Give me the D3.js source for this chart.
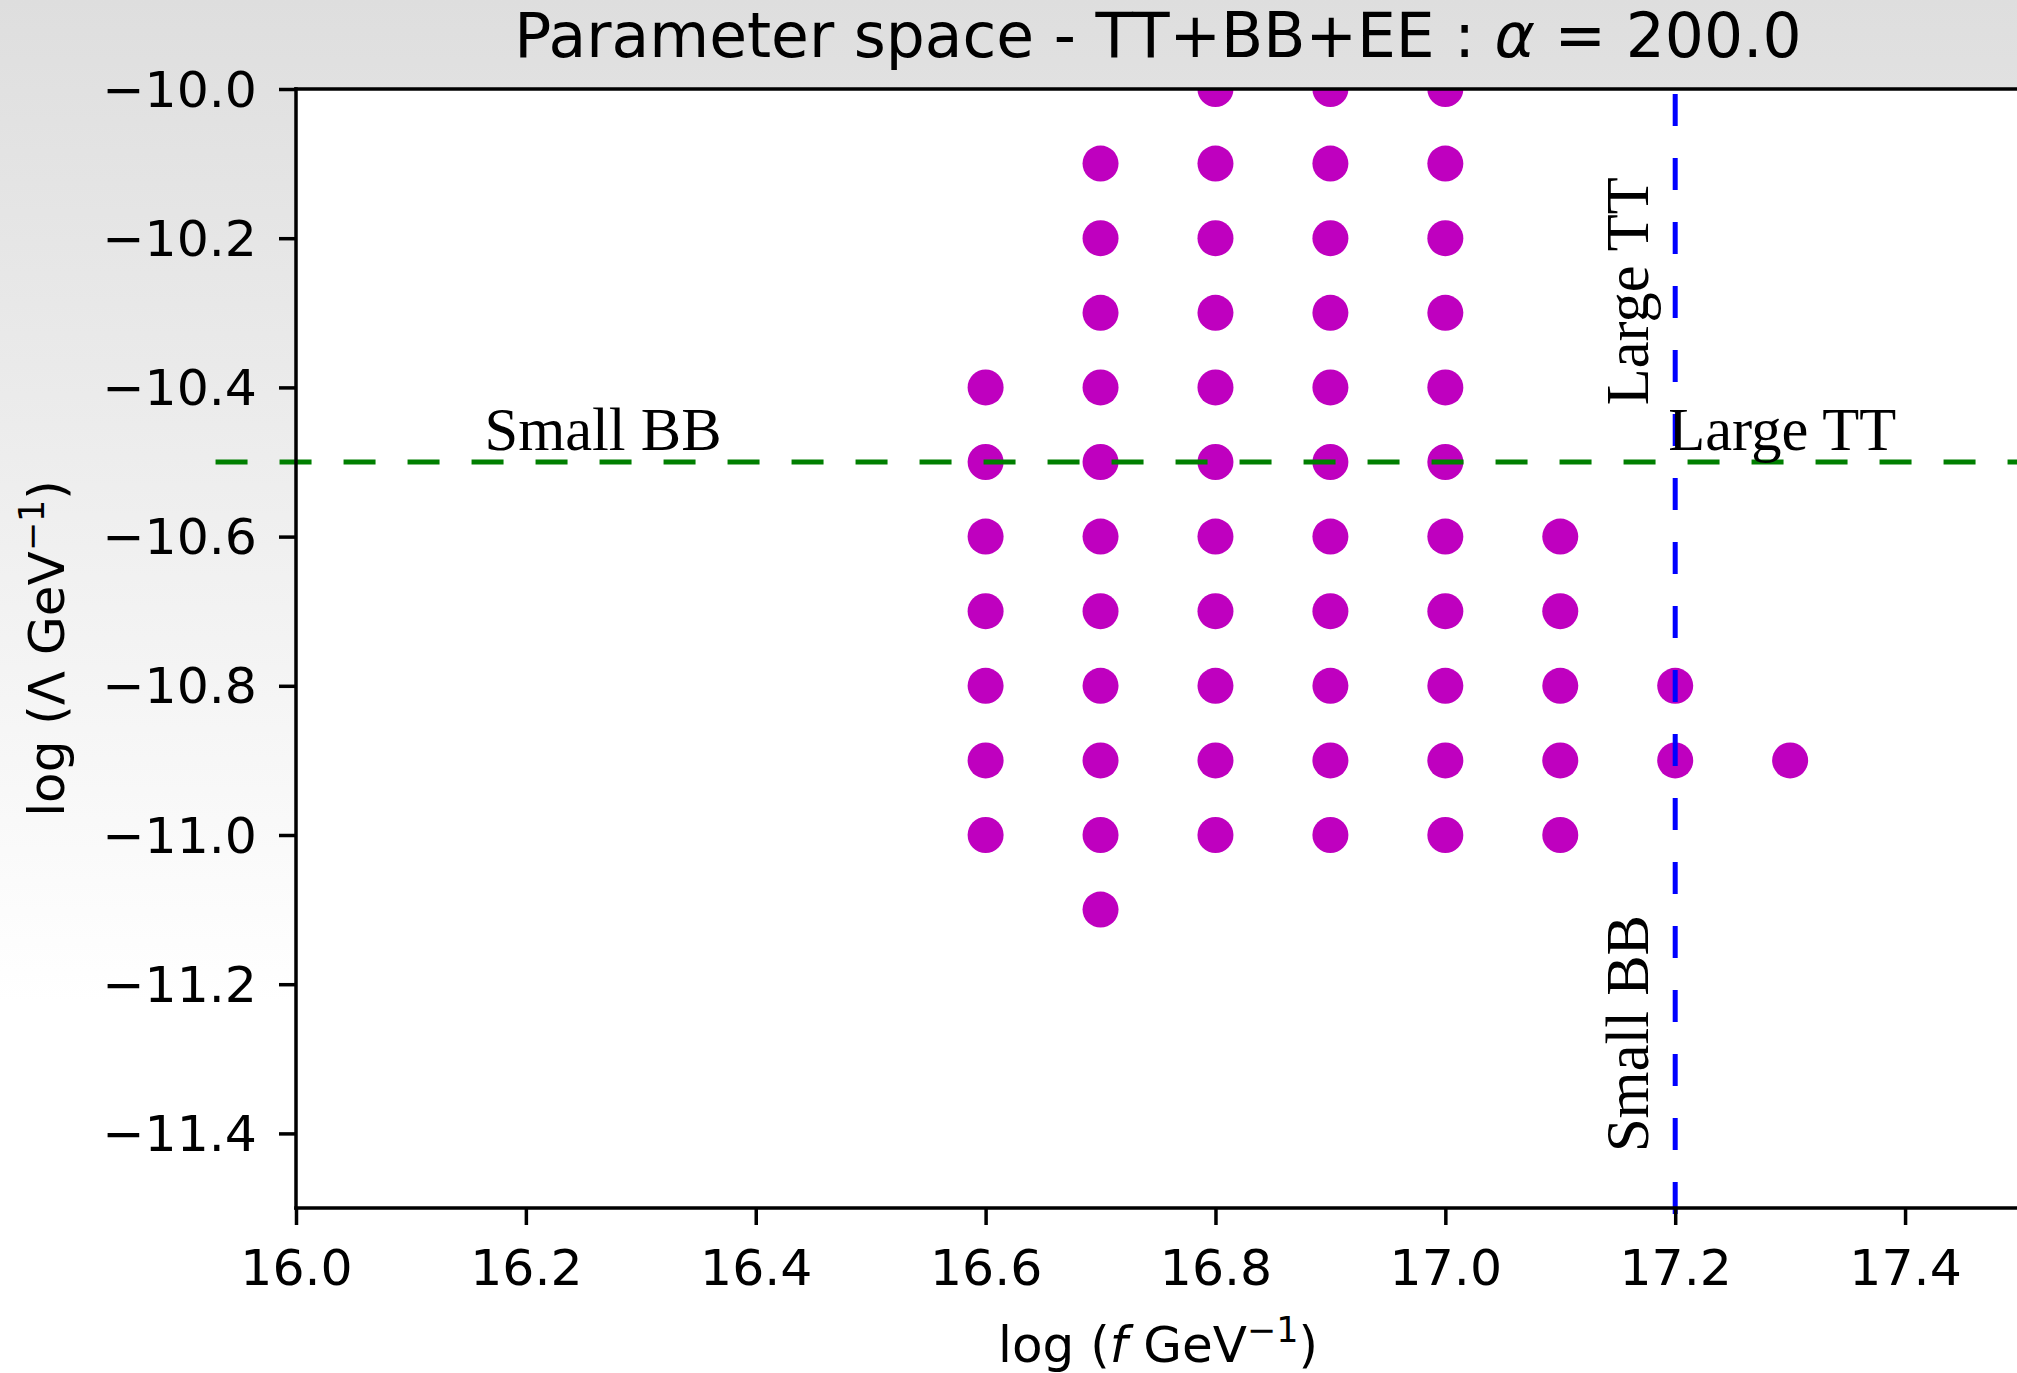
<!DOCTYPE html>
<html>
<head>
<meta charset="utf-8">
<script src="https://cdn.jsdelivr.net/npm/d3@7"></script>
<style>
  html, body { margin: 0; padding: 0; background: #fff; }
  svg { display: block; }
</style>
</head>
<body>
<svg id="chart" width="2017" height="1373"></svg>
<script>
// Grid of allowed (log f, log Lambda) points, one column per log f value
const fValues = [16.6, 16.7, 16.8, 16.9, 17.0, 17.1, 17.2, 17.3];
const lambdaColumns = [
  [-10.4, -10.5, -10.6, -10.7, -10.8, -10.9, -11.0],
  [-10.1, -10.2, -10.3, -10.4, -10.5, -10.6, -10.7, -10.8, -10.9, -11.0, -11.1],
  [-10.0, -10.1, -10.2, -10.3, -10.4, -10.5, -10.6, -10.7, -10.8, -10.9, -11.0],
  [-10.0, -10.1, -10.2, -10.3, -10.4, -10.5, -10.6, -10.7, -10.8, -10.9, -11.0],
  [-10.0, -10.1, -10.2, -10.3, -10.4, -10.5, -10.6, -10.7, -10.8, -10.9, -11.0],
  [-10.6, -10.7, -10.8, -10.9, -11.0],
  [-10.8, -10.9],
  [-10.9]
];

const xTicks = [16.0, 16.2, 16.4, 16.6, 16.8, 17.0, 17.2, 17.4];
const yTicks = [-10.0, -10.2, -10.4, -10.6, -10.8, -11.0, -11.2, -11.4];
const xDomain = [16.0, 17.5];
const yDomain = [-11.5, -10.0];

// Threshold lines
const bbThresholdY = -10.5;          // horizontal, green
const bbLineX = [15.93, 17.5];
const ttThresholdX = 17.2;           // vertical, blue
const ttLineY = [-11.508, -10.0];

// Region annotations
const annotations = [
  { text: "Small BB", x: 16.164, y: -10.484, rotate: 0 },
  { text: "Large TT", x: 17.194, y: -10.484, rotate: 0 },
  { text: "Large TT", x: 17.176, y: -10.424, rotate: -90 },
  { text: "Small BB", x: 17.176, y: -11.425, rotate: -90 }
];

const titleText = "Parameter space - TT+BB+EE : ";
const alphaValue = "200.0";

const points = fValues.flatMap((f, i) => lambdaColumns[i].map(l => ({ f, l })));

const W = 2017, H = 1373;
const plot = { left: 296, right: 2020, top: 89, bottom: 1208 };

const svg = d3.select("#chart");

// Figure background: soft grey fading to white
const defs = svg.append("defs");
const grad = defs.append("linearGradient")
  .attr("id", "figbg").attr("x1", 0).attr("y1", 0).attr("x2", 0).attr("y2", 1);
grad.append("stop").attr("offset", "0%").attr("stop-color", "#dedede");
grad.append("stop").attr("offset", "73%").attr("stop-color", "#ffffff");
grad.append("stop").attr("offset", "100%").attr("stop-color", "#ffffff");
svg.append("rect").attr("width", W).attr("height", H).attr("fill", "url(#figbg)");

defs.append("clipPath").attr("id", "plotclip")
  .append("rect")
  .attr("x", plot.left).attr("y", plot.top)
  .attr("width", plot.right - plot.left).attr("height", plot.bottom - plot.top);

const x = d3.scaleLinear().domain(xDomain).range([plot.left, plot.right]);
const y = d3.scaleLinear().domain(yDomain).range([plot.bottom, plot.top]);

// Axes background
svg.append("rect")
  .attr("x", plot.left).attr("y", plot.top)
  .attr("width", plot.right - plot.left).attr("height", plot.bottom - plot.top)
  .attr("fill", "#ffffff");

// Scatter points
svg.append("g").attr("clip-path", "url(#plotclip)")
  .selectAll("circle").data(points).join("circle")
  .attr("cx", d => x(d.f)).attr("cy", d => y(d.l))
  .attr("r", 18).attr("fill", "#bf00bf");

// Threshold lines (drawn above the points)
svg.append("line")
  .attr("x1", x(bbLineX[0])).attr("x2", x(bbLineX[1]))
  .attr("y1", y(bbThresholdY)).attr("y2", y(bbThresholdY))
  .attr("stroke", "#007f00").attr("stroke-width", 5)
  .attr("stroke-dasharray", "32 32");

svg.append("line")
  .attr("x1", x(ttThresholdX)).attr("x2", x(ttThresholdX))
  .attr("y1", y(ttLineY[0])).attr("y2", y(ttLineY[1]))
  .attr("stroke", "#0000ff").attr("stroke-width", 5)
  .attr("stroke-dasharray", "32 32");

// Annotations
svg.append("g").selectAll("text").data(annotations).join("text")
  .attr("transform", d => `translate(${x(d.x)},${y(d.y)}) rotate(${d.rotate})`)
  .attr("font-family", "'Liberation Serif', 'DejaVu Serif', serif")
  .attr("font-size", 60.5)
  .attr("fill", "#000")
  .text(d => d.text);

// Axes
const fmt = d3.format(".1f");
const xAxis = svg.append("g")
  .attr("transform", `translate(0,${plot.bottom})`)
  .call(d3.axisBottom(x).tickValues(xTicks).tickFormat(fmt).tickSize(17).tickPadding(6));
xAxis.selectAll("text").attr("dy", null).attr("y", 77);

const yAxis = svg.append("g")
  .attr("transform", `translate(${plot.left},0)`)
  .call(d3.axisLeft(y).tickValues(yTicks).tickFormat(fmt).tickSize(17).tickPadding(22));
yAxis.selectAll("text").attr("dy", "0.34em");

[xAxis, yAxis].forEach(g => {
  g.attr("font-family", "'DejaVu Sans', sans-serif").attr("font-size", 50.5);
  g.selectAll("text").attr("fill", "#000");
  g.selectAll(".tick line").attr("stroke", "#000").attr("stroke-width", 3.5);
  g.select(".domain").remove();
});

// Spines
const spine = svg.append("g").attr("stroke", "#000").attr("stroke-width", 3.5)
  .attr("stroke-linecap", "square");
spine.append("line").attr("x1", plot.left).attr("x2", plot.left).attr("y1", plot.top).attr("y2", plot.bottom);
spine.append("line").attr("x1", plot.left).attr("x2", plot.right).attr("y1", plot.top).attr("y2", plot.top);
spine.append("line").attr("x1", plot.left).attr("x2", plot.right).attr("y1", plot.bottom).attr("y2", plot.bottom);
spine.append("line").attr("x1", plot.right).attr("x2", plot.right).attr("y1", plot.top).attr("y2", plot.bottom);

// Title
const title = svg.append("text")
  .attr("x", (plot.left + plot.right) / 2).attr("y", 57)
  .attr("text-anchor", "middle")
  .attr("font-family", "'DejaVu Sans', sans-serif").attr("font-size", 61.5).attr("fill", "#000");
title.append("tspan").text(titleText);
title.append("tspan").attr("font-style", "italic").text("α");
title.append("tspan").text(" = " + alphaValue);

// Axis labels
const xl = svg.append("text")
  .attr("x", (plot.left + plot.right) / 2).attr("y", 1362)
  .attr("text-anchor", "middle")
  .attr("font-family", "'DejaVu Sans', sans-serif").attr("font-size", 50).attr("fill", "#000");
xl.append("tspan").text("log (");
xl.append("tspan").attr("font-style", "italic").text("f");
xl.append("tspan").text(" GeV");
xl.append("tspan").attr("font-size", 35).attr("dy", -20).text("−1");
xl.append("tspan").attr("dy", 20).text(")");

const yl = svg.append("text")
  .attr("transform", `translate(64,${(plot.top + plot.bottom) / 2}) rotate(-90)`)
  .attr("text-anchor", "middle")
  .attr("font-family", "'DejaVu Sans', sans-serif").attr("font-size", 50).attr("fill", "#000");
yl.append("tspan").text("log (Λ GeV");
yl.append("tspan").attr("font-size", 35).attr("dy", -20).text("−1");
yl.append("tspan").attr("dy", 20).text(")");
</script>
</body>
</html>
